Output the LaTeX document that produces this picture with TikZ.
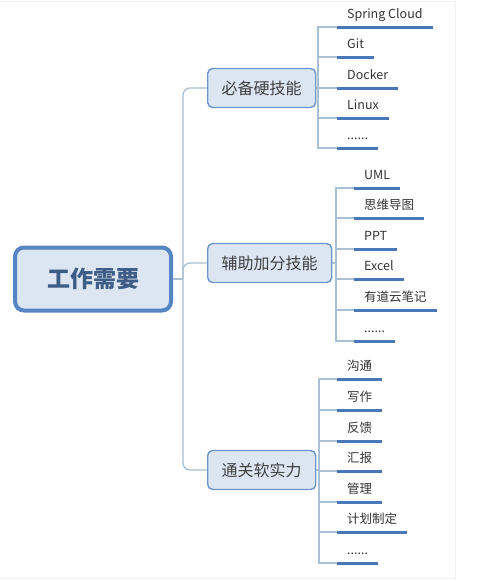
\documentclass[tikz,border=0pt]{standalone}
\usepackage{fontspec}
\newfontfamily\cjk{Noto Sans CJK SC}
\usetikzlibrary{positioning}

\definecolor{rootline}{HTML}{5685C2}
\definecolor{rootfill}{HTML}{DCE6F3}
\definecolor{roottext}{HTML}{3D5C86}
\definecolor{boxline}{HTML}{6E95C9}
\definecolor{boxfill}{HTML}{DCE6F2}
\definecolor{linkcol}{HTML}{A9BFD3}
\definecolor{undercol}{HTML}{4A78B6}

\begin{document}
\begin{tikzpicture}[
    x=1pt, y=-1pt,
    root/.style={rectangle, draw=rootline, fill=rootfill, line width=4pt, rounded corners=9pt, minimum width=156pt, minimum height=63pt, font=\cjk\fontsize{23}{25}\selectfont\bfseries, text=roottext},
    branch/.style={rectangle, draw=boxline, fill=boxfill, line width=1.4pt, rounded corners=5pt, anchor=west, inner xsep=14pt, minimum height=39pt, font=\cjk\fontsize{16}{18}\selectfont, text=black!75},
    leaf/.style={anchor=south west, inner xsep=10pt, inner ysep=5pt, text height=9pt, text depth=3pt, font=\cjk\fontsize{12.5}{14}\selectfont, text=black!80},
    link/.style={draw=linkcol, line width=1.3pt},
    under/.style={draw=undercol, line width=3pt}
]
\useasboundingbox (0,0) rectangle (500,581);

% Page frame
\draw[black!5, line width=1pt] (0,1) -- (455,1) -- (455,578) -- (0,578);

% Root
\node[root] (root) at (93,279) {工作需要};

% Branches
\node[branch] (b1) at (207,88) {必备硬技能};
\node[branch] (b2) at (207,263) {辅助加分技能};
\node[branch] (b3) at (207,470) {通关软实力};

% Joints
\coordinate (t) at (183,279);
\coordinate (j1) at (318,88);
\coordinate (j2) at (336,263);
\coordinate (j3) at (319,470);

% Leaves of b1
\node[leaf] (h1) at (337,27) {Spring Cloud};
\node[leaf] (h2) at (337,57) {Git};
\node[leaf] (h3) at (337,88) {Docker};
\node[leaf] (h4) at (337,118) {Linux};
\node[leaf] (h5) at (337,148) {......};

% Leaves of b2
\node[leaf] (a1) at (354,188) {UML};
\node[leaf] (a2) at (354,218) {思维导图};
\node[leaf] (a3) at (354,249) {PPT};
\node[leaf] (a4) at (354,279) {Excel};
\node[leaf] (a5) at (354,310) {有道云笔记};
\node[leaf] (a6) at (354,341) {......};

% Leaves of b3
\node[leaf] (s1) at (337,379) {沟通};
\node[leaf] (s2) at (337,410) {写作};
\node[leaf] (s3) at (337,441) {反馈};
\node[leaf] (s4) at (337,471) {汇报};
\node[leaf] (s5) at (337,502) {管理};
\node[leaf] (s6) at (337,532) {计划制定};
\node[leaf] (s7) at (337,563) {......};

% Trunk
\draw[link] (root.east) -- (t);
\draw[link, rounded corners=7pt] (t) |- (b1.west);
\draw[link, rounded corners=7pt] (t) |- (b2.west);
\draw[link, rounded corners=7pt] (t) |- (b3.west);

% Brackets
\draw[link] (b1.east) -- (j1);
\draw[link] (j1) |- (h1.south west);
\draw[link] (j1) |- (h2.south west);
\draw[link] (j1) |- (h3.south west);
\draw[link] (j1) |- (h4.south west);
\draw[link] (j1) |- (h5.south west);

\draw[link] (b2.east) -- (j2);
\draw[link] (j2) |- (a1.south west);
\draw[link] (j2) |- (a2.south west);
\draw[link] (j2) |- (a3.south west);
\draw[link] (j2) |- (a4.south west);
\draw[link] (j2) |- (a5.south west);
\draw[link] (j2) |- (a6.south west);

\draw[link] (b3.east) -- (j3);
\draw[link] (j3) |- (s1.south west);
\draw[link] (j3) |- (s2.south west);
\draw[link] (j3) |- (s3.south west);
\draw[link] (j3) |- (s4.south west);
\draw[link] (j3) |- (s5.south west);
\draw[link] (j3) |- (s6.south west);
\draw[link] (j3) |- (s7.south west);

% Underlines
\draw[under] (h1.south west) -- (h1.south east);
\draw[under] (h2.south west) -- (h2.south east);
\draw[under] (h3.south west) -- (h3.south east);
\draw[under] (h4.south west) -- (h4.south east);
\draw[under] (h5.south west) -- (h5.south east);
\draw[under] (a1.south west) -- (a1.south east);
\draw[under] (a2.south west) -- (a2.south east);
\draw[under] (a3.south west) -- (a3.south east);
\draw[under] (a4.south west) -- (a4.south east);
\draw[under] (a5.south west) -- (a5.south east);
\draw[under] (a6.south west) -- (a6.south east);
\draw[under] (s1.south west) -- (s1.south east);
\draw[under] (s2.south west) -- (s2.south east);
\draw[under] (s3.south west) -- (s3.south east);
\draw[under] (s4.south west) -- (s4.south east);
\draw[under] (s5.south west) -- (s5.south east);
\draw[under] (s6.south west) -- (s6.south east);
\draw[under] (s7.south west) -- (s7.south east);

\end{tikzpicture}
\end{document}
